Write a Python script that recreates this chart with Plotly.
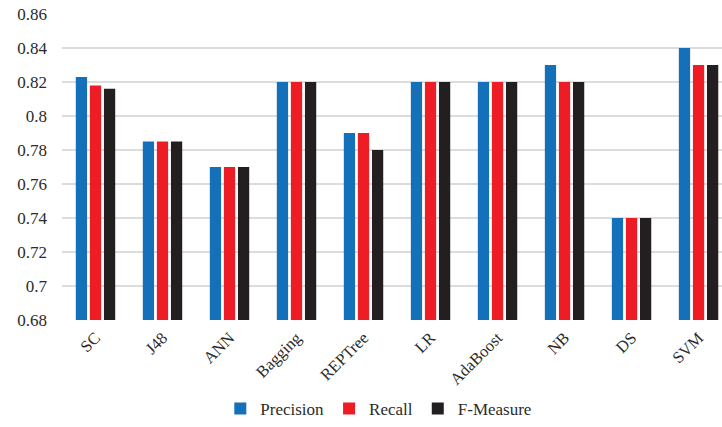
import plotly.graph_objects as go

categories = ["SC", "J48", "ANN", "Bagging", "REPTree", "LR", "AdaBoost", "NB", "DS", "SVM"]
precision = [0.823, 0.785, 0.77, 0.82, 0.79, 0.82, 0.82, 0.83, 0.74, 0.84]
recall = [0.818, 0.785, 0.77, 0.82, 0.79, 0.82, 0.82, 0.82, 0.74, 0.83]
f_measure = [0.816, 0.785, 0.77, 0.82, 0.78, 0.82, 0.82, 0.82, 0.74, 0.83]

series = [
    ("Precision", precision, "#1570BA"),
    ("Recall", recall, "#EE1C25"),
    ("F-Measure", f_measure, "#231F20"),
]

fig = go.Figure()
for name, vals, color in series:
    fig.add_trace(go.Bar(
        x=categories, y=vals, name=name,
        marker=dict(color=color, line=dict(width=0)),
    ))

serif = "Liberation Serif"

fig.update_layout(
    width=722, height=427,
    margin=dict(l=62, r=0, t=14, b=107),
    paper_bgcolor="white", plot_bgcolor="white",
    barmode="group", bargap=0.37, bargroupgap=0.2,
    font=dict(family=serif, size=16, color="#2b2b2b"),
    showlegend=True,
    legend=dict(
        orientation="h", x=0.48, xanchor="center",
        yref="container", y=0.0, yanchor="bottom",
        font=dict(family=serif, size=17, color="#2b2b2b"),
        itemwidth=30, traceorder="normal",
    ),
    xaxis=dict(
        range=[-0.5, 9.35], tickangle=-45, showgrid=False,
        showline=False, zeroline=False, ticks="",
        ticklabelstandoff=4,
        tickfont=dict(family=serif, size=16.5, color="#2b2b2b"),
    ),
    yaxis=dict(
        range=[0.68, 0.86], dtick=0.02, tick0=0.68,
        showgrid=True, gridcolor="#DCDCDC", gridwidth=1.5,
        zeroline=False, showline=False, ticks="",
        ticklabelstandoff=14,
        tickfont=dict(family=serif, size=17, color="#2b2b2b"),
    ),
)

fig.write_html("out.html")
